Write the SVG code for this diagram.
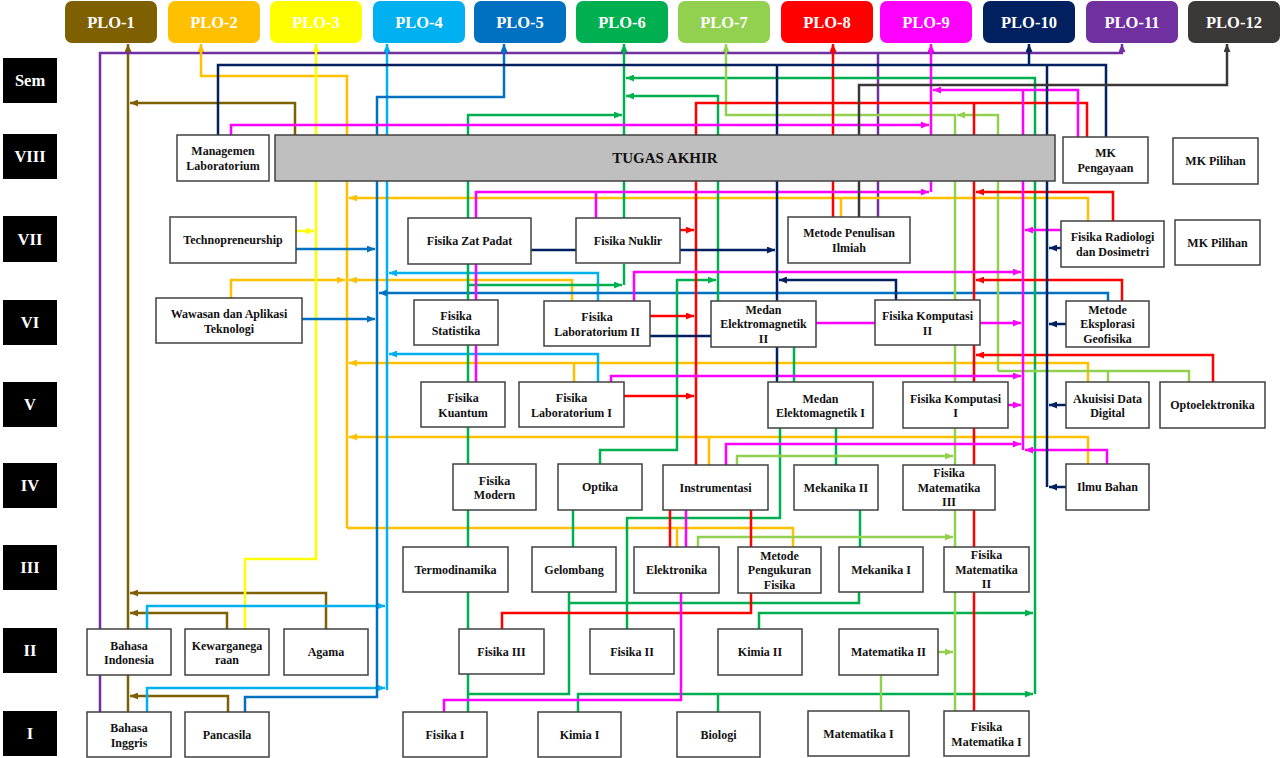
<svg xmlns="http://www.w3.org/2000/svg" width="1280" height="758" viewBox="0 0 1280 758">
<style>
.plo rect{stroke:none}
.plo text,.sem text{font-family:"Liberation Serif","Times New Roman",serif;font-weight:bold;font-size:16.5px;fill:#fff;text-anchor:middle}
.sem rect{fill:#000}
.n rect{fill:#fff;stroke:#404040;stroke-width:1.5}
.n text{font-family:"Liberation Serif","Times New Roman",serif;font-weight:bold;font-size:12px;fill:#111;text-anchor:middle}
#tugas-akhir rect{fill:#bfbfbf}
#tugas-akhir text{font-size:15px}
#connectors path{fill:none;stroke-width:2.5}
.brown{stroke:#7f6000}.orange{stroke:#ffc000}.yellow{stroke:#ffff00}.lblue{stroke:#00b0f0}.blue{stroke:#0070c0}.green{stroke:#00b050}.lgreen{stroke:#92d050}.red{stroke:#ff0000}.mag{stroke:#ff00ff}.navy{stroke:#002060}.purple{stroke:#7030a0}.grey{stroke:#3b3838}
</style>
<defs>
<marker id="m-brown" viewBox="0 0 8 7" refX="8" refY="3.5" markerWidth="8" markerHeight="7" markerUnits="userSpaceOnUse" orient="auto"><path d="M0,0 L8,3.5 L0,7 z" fill="#7f6000"/></marker>
<marker id="m-orange" viewBox="0 0 8 7" refX="8" refY="3.5" markerWidth="8" markerHeight="7" markerUnits="userSpaceOnUse" orient="auto"><path d="M0,0 L8,3.5 L0,7 z" fill="#ffc000"/></marker>
<marker id="m-yellow" viewBox="0 0 8 7" refX="8" refY="3.5" markerWidth="8" markerHeight="7" markerUnits="userSpaceOnUse" orient="auto"><path d="M0,0 L8,3.5 L0,7 z" fill="#ffff00"/></marker>
<marker id="m-lblue" viewBox="0 0 8 7" refX="8" refY="3.5" markerWidth="8" markerHeight="7" markerUnits="userSpaceOnUse" orient="auto"><path d="M0,0 L8,3.5 L0,7 z" fill="#00b0f0"/></marker>
<marker id="m-blue" viewBox="0 0 8 7" refX="8" refY="3.5" markerWidth="8" markerHeight="7" markerUnits="userSpaceOnUse" orient="auto"><path d="M0,0 L8,3.5 L0,7 z" fill="#0070c0"/></marker>
<marker id="m-green" viewBox="0 0 8 7" refX="8" refY="3.5" markerWidth="8" markerHeight="7" markerUnits="userSpaceOnUse" orient="auto"><path d="M0,0 L8,3.5 L0,7 z" fill="#00b050"/></marker>
<marker id="m-lgreen" viewBox="0 0 8 7" refX="8" refY="3.5" markerWidth="8" markerHeight="7" markerUnits="userSpaceOnUse" orient="auto"><path d="M0,0 L8,3.5 L0,7 z" fill="#92d050"/></marker>
<marker id="m-red" viewBox="0 0 8 7" refX="8" refY="3.5" markerWidth="8" markerHeight="7" markerUnits="userSpaceOnUse" orient="auto"><path d="M0,0 L8,3.5 L0,7 z" fill="#ff0000"/></marker>
<marker id="m-mag" viewBox="0 0 8 7" refX="8" refY="3.5" markerWidth="8" markerHeight="7" markerUnits="userSpaceOnUse" orient="auto"><path d="M0,0 L8,3.5 L0,7 z" fill="#ff00ff"/></marker>
<marker id="m-navy" viewBox="0 0 8 7" refX="8" refY="3.5" markerWidth="8" markerHeight="7" markerUnits="userSpaceOnUse" orient="auto"><path d="M0,0 L8,3.5 L0,7 z" fill="#002060"/></marker>
<marker id="m-purple" viewBox="0 0 8 7" refX="8" refY="3.5" markerWidth="8" markerHeight="7" markerUnits="userSpaceOnUse" orient="auto"><path d="M0,0 L8,3.5 L0,7 z" fill="#7030a0"/></marker>
<marker id="m-grey" viewBox="0 0 8 7" refX="8" refY="3.5" markerWidth="8" markerHeight="7" markerUnits="userSpaceOnUse" orient="auto"><path d="M0,0 L8,3.5 L0,7 z" fill="#3b3838"/></marker>
</defs>
<rect width="1280" height="758" fill="#fff"/>

<g id="connectors">
<!-- PLO-1 brown -->
<path class="brown" d="M128,712 V675"/>
<path class="brown" d="M128,629 V44" marker-end="url(#m-brown)"/>
<path class="brown" d="M295,135 V103 H130" marker-end="url(#m-brown)"/>
<path class="brown" d="M326,629 V593 H130" marker-end="url(#m-brown)"/>
<path class="brown" d="M227,629 V613 H130" marker-end="url(#m-brown)"/>
<path class="brown" d="M228,712 V696 H130" marker-end="url(#m-brown)"/>
<!-- PLO-11 purple -->
<path class="purple" d="M100,712 V53 H1122 V44" marker-end="url(#m-purple)"/>
<path class="purple" d="M878,217 V53"/>
<!-- PLO-2 orange -->
<path class="orange" d="M347,528 V76 H201 V44" marker-end="url(#m-orange)"/>
<path class="orange" d="M347,528 H793 V547"/>
<path class="orange" d="M677,528 V547"/>
<path class="orange" d="M1088,221 V198 H349" marker-end="url(#m-orange)"/>
<path class="orange" d="M841,217 V198"/>
<path class="orange" d="M572,301 V280 H349" marker-end="url(#m-orange)"/>
<path class="orange" d="M231,298 V280 H345" marker-end="url(#m-orange)"/>
<path class="orange" d="M1088,382 V363 H349" marker-end="url(#m-orange)"/>
<path class="orange" d="M574,382 V363"/>
<path class="orange" d="M1088,464 V437 H349" marker-end="url(#m-orange)"/>
<path class="orange" d="M709,465 V437"/>
<!-- PLO-3 yellow -->
<path class="yellow" d="M245,629 V559 H316 V44" marker-end="url(#m-yellow)"/>
<path class="yellow" d="M296,231 H314" marker-end="url(#m-yellow)"/>
<!-- PLO-4 light blue -->
<path class="lblue" d="M147,712 V688 H385" marker-end="url(#m-lblue)"/>
<path class="lblue" d="M147,629 V606 H385" marker-end="url(#m-lblue)"/>
<path class="lblue" d="M387,690 V44" marker-end="url(#m-lblue)"/>
<path class="lblue" d="M598,301 V273 H389" marker-end="url(#m-lblue)"/>
<path class="lblue" d="M598,382 V354 H389" marker-end="url(#m-lblue)"/>
<!-- PLO-5 blue -->
<path class="blue" d="M245,712 V697 H377 V97 H504 V44" marker-end="url(#m-blue)"/>
<path class="blue" d="M296,249 H375" marker-end="url(#m-blue)"/>
<path class="blue" d="M302,319 H375" marker-end="url(#m-blue)"/>
<path class="blue" d="M1108,301 V293 H379" marker-end="url(#m-blue)"/>
<!-- PLO-6 green -->
<path class="green" d="M624,218 V44" marker-end="url(#m-green)"/>
<path class="green" d="M468,712 V115 H622" marker-end="url(#m-green)"/>
<path class="green" d="M468,285 H622" marker-end="url(#m-green)"/>
<path class="green" d="M624,264 V285"/>
<path class="green" d="M718,301 V96 H626" marker-end="url(#m-green)"/>
<path class="green" d="M1035,694 V78 H626" marker-end="url(#m-green)"/>
<path class="green" d="M600,464 V450 H677 V280 H716" marker-end="url(#m-green)"/>
<path class="green" d="M573,547 V510"/>
<path class="green" d="M569,592 V694 H468"/>
<path class="green" d="M859,592 V603 H569"/>
<path class="green" d="M578,712 V694 H1033" marker-end="url(#m-green)"/>
<path class="green" d="M718,712 V694"/>
<path class="green" d="M759,629 V613 H1033" marker-end="url(#m-green)"/>
<path class="green" d="M627,629 V518 H780 V428"/>
<path class="green" d="M836,428 V465"/>
<path class="green" d="M860,510 V547"/>
<path class="green" d="M794,347 V382"/>
<!-- PLO-7 light green -->
<path class="lgreen" d="M955,711 V115 H726 V44" marker-end="url(#m-lgreen)"/>
<path class="lgreen" d="M998,371 V115 H957" marker-end="url(#m-lgreen)"/>
<path class="lgreen" d="M1189,382 V371 H998"/>
<path class="lgreen" d="M1108,382 V371"/>
<path class="lgreen" d="M737,465 V456 H953" marker-end="url(#m-lgreen)"/>
<path class="lgreen" d="M698,547 V537 H953" marker-end="url(#m-lgreen)"/>
<path class="lgreen" d="M938,652 H953" marker-end="url(#m-lgreen)"/>
<path class="lgreen" d="M881,675 V711"/>
<!-- PLO-8 red -->
<path class="red" d="M833,217 V44" marker-end="url(#m-red)"/>
<path class="red" d="M696,465 V103 H1087 V137"/>
<path class="red" d="M974,711 V103"/>
<path class="red" d="M680,230 H694" marker-end="url(#m-red)"/>
<path class="red" d="M650,316 H694" marker-end="url(#m-red)"/>
<path class="red" d="M624,396 H694" marker-end="url(#m-red)"/>
<path class="red" d="M1113,221 V192 H976" marker-end="url(#m-red)"/>
<path class="red" d="M1122,301 V280 H976" marker-end="url(#m-red)"/>
<path class="red" d="M1213,382 V355 H976" marker-end="url(#m-red)"/>
<path class="red" d="M670,510 V547"/>
<path class="red" d="M751,510 V547"/>
<path class="red" d="M751,593 V613 H502 V629"/>
<!-- PLO-9 magenta -->
<path class="mag" d="M231,135 V125 H929" marker-end="url(#m-mag)"/>
<path class="mag" d="M931,192 V44" marker-end="url(#m-mag)"/>
<path class="mag" d="M476,382 V192 H929" marker-end="url(#m-mag)"/>
<path class="mag" d="M596,218 V192"/>
<path class="mag" d="M1078,137 V90 H933" marker-end="url(#m-mag)"/>
<path class="mag" d="M1023,90 V450"/>
<path class="mag" d="M634,301 V272 H1021" marker-end="url(#m-mag)"/>
<path class="mag" d="M980,323 H1021" marker-end="url(#m-mag)"/>
<path class="mag" d="M816,323 H875"/>
<path class="mag" d="M611,382 V376 H1021" marker-end="url(#m-mag)"/>
<path class="mag" d="M1008,405 H1021" marker-end="url(#m-mag)"/>
<path class="mag" d="M726,465 V444 H1021" marker-end="url(#m-mag)"/>
<path class="mag" d="M1107,464 V450 H1025" marker-end="url(#m-mag)"/>
<path class="mag" d="M1061,230 H1025" marker-end="url(#m-mag)"/>
<path class="mag" d="M686,510 V547"/>
<path class="mag" d="M681,593 V700 H444 V712"/>
<!-- PLO-10 navy -->
<path class="navy" d="M218,135 V65 H1106 V137"/>
<path class="navy" d="M1029,65 V44" marker-end="url(#m-navy)"/>
<path class="navy" d="M1047,65 V487"/>
<path class="navy" d="M1061,248 H1049" marker-end="url(#m-navy)"/>
<path class="navy" d="M1066,324 H1049" marker-end="url(#m-navy)"/>
<path class="navy" d="M1066,405 H1049" marker-end="url(#m-navy)"/>
<path class="navy" d="M1066,487 H1049" marker-end="url(#m-navy)"/>
<path class="navy" d="M777,65 V301"/>
<path class="navy" d="M777,347 V382"/>
<path class="navy" d="M531,250 H576"/>
<path class="navy" d="M680,250 H775" marker-end="url(#m-navy)"/>
<path class="navy" d="M896,300 V280 H779" marker-end="url(#m-navy)"/>
<path class="navy" d="M650,336 H711"/>
<!-- PLO-12 grey -->
<path class="grey" d="M859,217 V85 H1227 V44" marker-end="url(#m-grey)"/>
</g>

<g id="plo-1" class="plo"><rect x="65" y="1" width="92" height="42" rx="7" fill="#7f6000"/><text x="111" y="28">PLO-1</text></g>
<g id="plo-2" class="plo"><rect x="168" y="1" width="92" height="42" rx="7" fill="#ffc000"/><text x="214" y="28">PLO-2</text></g>
<g id="plo-3" class="plo"><rect x="270" y="1" width="92" height="42" rx="7" fill="#ffff00"/><text x="316" y="28">PLO-3</text></g>
<g id="plo-4" class="plo"><rect x="373" y="1" width="92" height="42" rx="7" fill="#00b0f0"/><text x="419" y="28">PLO-4</text></g>
<g id="plo-5" class="plo"><rect x="474" y="1" width="92" height="42" rx="7" fill="#0070c0"/><text x="520" y="28">PLO-5</text></g>
<g id="plo-6" class="plo"><rect x="576" y="1" width="92" height="42" rx="7" fill="#00b050"/><text x="622" y="28">PLO-6</text></g>
<g id="plo-7" class="plo"><rect x="678" y="1" width="92" height="42" rx="7" fill="#92d050"/><text x="724" y="28">PLO-7</text></g>
<g id="plo-8" class="plo"><rect x="781" y="1" width="92" height="42" rx="7" fill="#ff0000"/><text x="827" y="28">PLO-8</text></g>
<g id="plo-9" class="plo"><rect x="880" y="1" width="92" height="42" rx="7" fill="#ff00ff"/><text x="926" y="28">PLO-9</text></g>
<g id="plo-10" class="plo"><rect x="983" y="1" width="92" height="42" rx="7" fill="#002060"/><text x="1029" y="28">PLO-10</text></g>
<g id="plo-11" class="plo"><rect x="1086" y="1" width="92" height="42" rx="7" fill="#7030a0"/><text x="1132" y="28">PLO-11</text></g>
<g id="plo-12" class="plo"><rect x="1188" y="1" width="92" height="42" rx="7" fill="#3b3838"/><text x="1234" y="28">PLO-12</text></g>

<g id="sem-head" class="sem"><rect x="3" y="58" width="54" height="45"/><text x="30" y="86">Sem</text></g>
<g id="sem-8" class="sem"><rect x="3" y="134" width="54" height="45"/><text x="30" y="162">VIII</text></g>
<g id="sem-7" class="sem"><rect x="3" y="216" width="54" height="46"/><text x="30" y="245">VII</text></g>
<g id="sem-6" class="sem"><rect x="3" y="300" width="54" height="45"/><text x="30" y="328">VI</text></g>
<g id="sem-5" class="sem"><rect x="3" y="382" width="54" height="45"/><text x="30" y="410">V</text></g>
<g id="sem-4" class="sem"><rect x="3" y="463" width="54" height="45"/><text x="30" y="491">IV</text></g>
<g id="sem-3" class="sem"><rect x="3" y="545" width="54" height="45"/><text x="30" y="573">III</text></g>
<g id="sem-2" class="sem"><rect x="3" y="628" width="54" height="45"/><text x="30" y="656">II</text></g>
<g id="sem-1" class="sem"><rect x="3" y="711" width="54" height="45"/><text x="30" y="739">I</text></g>

<g id="managemen-laboratorium" class="n"><rect x="177" y="135" width="92" height="46"/><text x="223"><tspan x="223" y="155">Managemen</tspan><tspan x="223" y="170">Laboratorium</tspan></text></g>
<g id="tugas-akhir" class="n"><rect x="275" y="135" width="780" height="46"/><text x="665" y="163">TUGAS AKHIR</text></g>
<g id="mk-pengayaan" class="n"><rect x="1063" y="137" width="85" height="46"/><text><tspan x="1105.5" y="157">MK</tspan><tspan x="1105.5" y="172">Pengayaan</tspan></text></g>
<g id="mk-pilihan-8" class="n"><rect x="1173" y="138" width="85" height="46"/><text x="1215.5" y="165">MK Pilihan</text></g>
<g id="technopreneurship" class="n"><rect x="170" y="217" width="126" height="46"/><text x="233" y="244">Technopreneurship</text></g>
<g id="fisika-zat-padat" class="n"><rect x="408" y="218" width="123" height="46"/><text x="469.5" y="245">Fisika Zat Padat</text></g>
<g id="fisika-nuklir" class="n"><rect x="576" y="218" width="104" height="45"/><text x="628" y="244.5">Fisika Nuklir</text></g>
<g id="metode-penulisan-ilmiah" class="n"><rect x="788" y="217" width="122" height="46"/><text><tspan x="849" y="237">Metode Penulisan</tspan><tspan x="849" y="252">Ilmiah</tspan></text></g>
<g id="fisika-radiologi" class="n"><rect x="1061" y="221" width="103" height="46"/><text><tspan x="1112.5" y="241">Fisika Radiologi</tspan><tspan x="1112.5" y="256">dan Dosimetri</tspan></text></g>
<g id="mk-pilihan-7" class="n"><rect x="1175" y="220" width="85" height="45"/><text x="1217.5" y="246.5">MK Pilihan</text></g>
<g id="wawasan" class="n"><rect x="156" y="298" width="146" height="45"/><text><tspan x="229" y="318">Wawasan dan Aplikasi</tspan><tspan x="229" y="332.5">Teknologi</tspan></text></g>
<g id="fisika-statistika" class="n"><rect x="414" y="300" width="84" height="45"/><text><tspan x="456" y="320">Fisika</tspan><tspan x="456" y="334.5">Statistika</tspan></text></g>
<g id="fisika-lab-2" class="n"><rect x="544" y="301" width="106" height="45"/><text><tspan x="597" y="321">Fisika</tspan><tspan x="597" y="335.5">Laboratorium II</tspan></text></g>
<g id="medan-em-2" class="n"><rect x="711" y="301" width="105" height="46"/><text><tspan x="763.5" y="313.5">Medan</tspan><tspan x="763.5" y="328">Elektromagnetik</tspan><tspan x="763.5" y="342.5">II</tspan></text></g>
<g id="fisika-komputasi-2" class="n"><rect x="875" y="300" width="105" height="45"/><text><tspan x="927.5" y="320">Fisika Komputasi</tspan><tspan x="927.5" y="334.5">II</tspan></text></g>
<g id="metode-eksplorasi" class="n"><rect x="1066" y="301" width="83" height="46"/><text><tspan x="1107.5" y="313.5">Metode</tspan><tspan x="1107.5" y="328">Eksplorasi</tspan><tspan x="1107.5" y="342.5">Geofisika</tspan></text></g>
<g id="fisika-kuantum" class="n"><rect x="421" y="382" width="84" height="45"/><text><tspan x="463" y="402">Fisika</tspan><tspan x="463" y="416.5">Kuantum</tspan></text></g>
<g id="fisika-lab-1" class="n"><rect x="519" y="382" width="105" height="45"/><text><tspan x="571.5" y="402">Fisika</tspan><tspan x="571.5" y="416.5">Laboratorium I</tspan></text></g>
<g id="medan-em-1" class="n"><rect x="768" y="382" width="105" height="46"/><text><tspan x="820.5" y="402.5">Medan</tspan><tspan x="820.5" y="417">Elektomagnetik I</tspan></text></g>
<g id="fisika-komputasi-1" class="n"><rect x="903" y="382" width="105" height="46"/><text><tspan x="955.5" y="402.5">Fisika Komputasi</tspan><tspan x="955.5" y="417">I</tspan></text></g>
<g id="akuisisi-data" class="n"><rect x="1066" y="382" width="83" height="46"/><text><tspan x="1107.5" y="402.5">Akuisisi Data</tspan><tspan x="1107.5" y="417">Digital</tspan></text></g>
<g id="optoelektronika" class="n"><rect x="1160" y="382" width="105" height="46"/><text x="1212.5" y="409">Optoelektronika</text></g>
<g id="fisika-modern" class="n"><rect x="453" y="464" width="83" height="46"/><text><tspan x="494.5" y="484.5">Fisika</tspan><tspan x="494.5" y="499">Modern</tspan></text></g>
<g id="optika" class="n"><rect x="558" y="464" width="84" height="46"/><text x="600" y="491">Optika</text></g>
<g id="instrumentasi" class="n"><rect x="663" y="465" width="105" height="45"/><text x="715.5" y="491.5">Instrumentasi</text></g>
<g id="mekanika-2" class="n"><rect x="794" y="465" width="84" height="45"/><text x="836" y="491.5">Mekanika II</text></g>
<g id="fisika-matematika-3" class="n"><rect x="903" y="465" width="92" height="45"/><text><tspan x="949" y="477">Fisika</tspan><tspan x="949" y="491.5">Matematika</tspan><tspan x="949" y="506">III</tspan></text></g>
<g id="ilmu-bahan" class="n"><rect x="1066" y="464" width="83" height="46"/><text x="1107.5" y="491">Ilmu Bahan</text></g>
<g id="termodinamika" class="n"><rect x="403" y="547" width="105" height="45"/><text x="455.5" y="573.5">Termodinamika</text></g>
<g id="gelombang" class="n"><rect x="532" y="547" width="84" height="45"/><text x="574" y="573.5">Gelombang</text></g>
<g id="elektronika" class="n"><rect x="634" y="547" width="85" height="46"/><text x="676.5" y="574">Elektronika</text></g>
<g id="metode-pengukuran" class="n"><rect x="738" y="547" width="83" height="46"/><text><tspan x="779.5" y="559.5">Metode</tspan><tspan x="779.5" y="574">Pengukuran</tspan><tspan x="779.5" y="588.5">Fisika</tspan></text></g>
<g id="mekanika-1" class="n"><rect x="839" y="547" width="84" height="45"/><text x="881" y="573.5">Mekanika I</text></g>
<g id="fisika-matematika-2" class="n"><rect x="944" y="547" width="85" height="45"/><text><tspan x="986.5" y="559">Fisika</tspan><tspan x="986.5" y="573.5">Matematika</tspan><tspan x="986.5" y="588">II</tspan></text></g>
<g id="bahasa-indonesia" class="n"><rect x="87" y="629" width="84" height="46"/><text><tspan x="129" y="649.5">Bahasa</tspan><tspan x="129" y="664">Indonesia</tspan></text></g>
<g id="kewarganegaraan" class="n"><rect x="185" y="629" width="84" height="46"/><text><tspan x="227" y="649.5">Kewarganega</tspan><tspan x="227" y="664">raan</tspan></text></g>
<g id="agama" class="n"><rect x="284" y="629" width="84" height="46"/><text x="326" y="656">Agama</text></g>
<g id="fisika-3" class="n"><rect x="459" y="629" width="85" height="45"/><text x="501.5" y="655.5">Fisika III</text></g>
<g id="fisika-2" class="n"><rect x="590" y="629" width="84" height="45"/><text x="632" y="655.5">Fisika II</text></g>
<g id="kimia-2" class="n"><rect x="718" y="629" width="84" height="46"/><text x="760" y="656">Kimia II</text></g>
<g id="matematika-2" class="n"><rect x="839" y="629" width="99" height="46"/><text x="888.5" y="656">Matematika II</text></g>
<g id="bahasa-inggris" class="n"><rect x="87" y="712" width="84" height="45"/><text><tspan x="129" y="732">Bahasa</tspan><tspan x="129" y="746.5">Inggris</tspan></text></g>
<g id="pancasila" class="n"><rect x="185" y="712" width="84" height="45"/><text x="227" y="738.5">Pancasila</text></g>
<g id="fisika-1" class="n"><rect x="403" y="712" width="84" height="45"/><text x="445" y="738.5">Fisika I</text></g>
<g id="kimia-1" class="n"><rect x="538" y="712" width="83" height="45"/><text x="579.5" y="738.5">Kimia I</text></g>
<g id="biologi" class="n"><rect x="677" y="712" width="83" height="45"/><text x="718.5" y="738.5">Biologi</text></g>
<g id="matematika-1" class="n"><rect x="808" y="711" width="101" height="45"/><text x="858.5" y="737.5">Matematika I</text></g>
<g id="fisika-matematika-1" class="n"><rect x="944" y="711" width="85" height="45"/><text><tspan x="986.5" y="731">Fisika</tspan><tspan x="986.5" y="745.5">Matematika I</tspan></text></g>
</svg>
